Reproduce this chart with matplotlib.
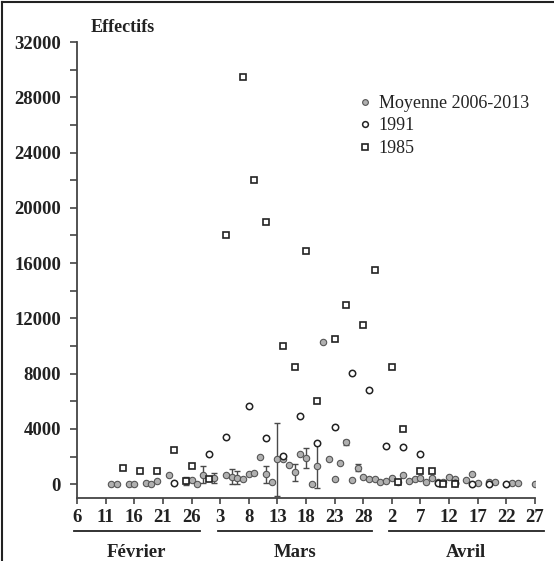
import matplotlib
matplotlib.use("Agg")
import matplotlib.pyplot as plt
import matplotlib.transforms as mtransforms
from matplotlib.lines import Line2D
import numpy as np

plt.rcParams['font.family'] = ['Liberation Serif', 'DejaVu Serif']

# days counted from 6 February (day 0) to 27 April (day 80)
moy_days = [6, 7, 9, 10, 12, 13, 14, 16, 19, 20, 21, 22, 24, 26, 27, 28, 29, 30, 31, 32,
            33, 34, 35, 36, 37, 38, 39, 40, 41, 42, 43, 44, 45, 46, 47, 48, 49, 50, 51, 52,
            53, 54, 55, 56, 57, 58, 59, 60, 61, 62, 63, 64, 65, 66, 68, 69, 70, 72, 73, 76,
            77, 80]
moy_vals = [0, 0, 0, 0, 100, 0, 200, 650, 220, 290, 0, 700, 430, 700, 550, 480, 340, 770, 800, 2000,
            720, 150, 1790, 1790, 1420, 850, 2150, 1900, 0, 1350, 10300, 1790, 360, 1520, 3020, 290, 1200, 530, 410, 360,
            170, 240, 430, 170, 650, 220, 360, 430, 140, 480, 140, 170, 500, 360, 290, 750, 100, 170, 170, 120,
            50, 0]
moy_err_days = [19, 22, 24, 27, 28, 33, 35, 38, 40, 42, 47, 49]
moy_err_vals = [220, 700, 430, 550, 480, 720, 1790, 850, 1900, 1350, 3020, 1200]
moy_err = [300, 650, 350, 520, 500, 630, 2650, 600, 700, 1650, 200, 250]

y1991_days = [17, 23, 26, 30, 33, 36, 39, 42, 45, 48, 51, 54, 57, 60, 63, 66, 69, 72, 75]
y1991_vals = [50, 2150, 3450, 5650, 3370, 2030, 4900, 3000, 4150, 8060, 6790, 2730, 2660, 2220,
              100, 100, 0, 0, 0]

y1985_days = [8, 11, 14, 17, 19, 20, 23, 26, 29, 31, 33, 36, 38, 40, 42, 45, 47, 50, 52, 55,
              56, 57, 60, 62, 64, 66]
y1985_vals = [1180, 950, 950, 2500, 220, 1350, 400, 18000, 29500, 22000, 19000, 10000, 8500,
              16900, 6000, 10500, 13000, 11500, 15500, 8500, 170, 4000, 970, 970, 0, 0]

tick_days = list(range(0, 81, 5))
tick_labels = ['6', '11', '16', '21', '26', '3', '8', '13', '18', '23', '28',
               '2', '7', '12', '17', '22', '27']
months = ['Février', 'Mars', 'Avril']
month_spans = [(-0.6, 21.5), (24.7, 51.6), (54.5, 81.5)]

fig = plt.figure(figsize=(5.54, 5.61), dpi=100)
ax = fig.add_axes([0.139, 0.1123, 0.8267, 0.8128])

ax.errorbar(moy_err_days, moy_err_vals, yerr=moy_err, fmt='none', ecolor='#4a4a4a',
            elinewidth=1.0, capsize=2.5, capthick=1.0, zorder=2)
ax.plot(moy_days, moy_vals, 'o', ms=4.6, mfc='#b0b0b0', mec='#555555', mew=0.8,
        ls='none', zorder=3, label='Moyenne 2006-2013')
ax.plot(y1991_days, y1991_vals, 'o', ms=4.6, mfc='white', mec='#222222', mew=1.1,
        ls='none', zorder=4, label='1991')
ax.plot(y1985_days, y1985_vals, 's', ms=4.2, mfc='white', mec='#222222', mew=1.2,
        ls='none', zorder=4, label='1985')

ax.set_xlim(0, 80)
ax.set_ylim(-1000, 32000)
ax.set_xticks(tick_days)
ax.set_xticklabels(tick_labels)
ax.set_yticks(np.arange(0, 32001, 4000))
ax.set_yticks(np.arange(2000, 32000, 4000), minor=True)

for side in ['top', 'right']:
    ax.spines[side].set_visible(False)
for side in ['left', 'bottom']:
    ax.spines[side].set_color('#444444')
    ax.spines[side].set_linewidth(1.3)

ax.tick_params(axis='both', which='both', direction='out', color='#444444', width=1.2,
               labelsize=13.5, labelcolor='#222222')
ax.tick_params(axis='x', length=4, pad=4)
ax.tick_params(axis='y', which='both', length=5, pad=6.5)
for lab in ax.get_xticklabels() + ax.get_yticklabels():
    lab.set_fontweight('bold')

# month underlines and names below the date ticks
trans = mtransforms.blended_transform_factory(ax.transData, ax.transAxes)
for name, (x0, x1) in zip(months, month_spans):
    ax.plot([x0, x1], [-0.0724, -0.0724], color='#222222', lw=1.3,
            transform=trans, clip_on=False)
    ax.text((x0 + x1) / 2, -0.119, name, transform=trans, ha='center', va='center',
            fontsize=13.5, fontweight='bold', color='#222222')

fig.text(91 / 554, 1 - 27 / 561, 'Effectifs', ha='left', va='center',
         fontsize=13, fontweight='bold', color='#222222')

ax.legend(loc='upper left', bbox_to_anchor=(358 / 554, 1 - 95 / 561),
          bbox_transform=fig.transFigure, frameon=False, fontsize=13,
          handlelength=0.8, handletextpad=0.35, labelspacing=0.3, borderpad=0,
          borderaxespad=0, markerscale=0.9, labelcolor='#222222')

# open frame around the figure (left and top edges)
fig.add_artist(Line2D([2 / 554, 2 / 554], [0, 1 - 2 / 561], color='#222222', lw=1.5,
                      transform=fig.transFigure))
fig.add_artist(Line2D([2 / 554, 1], [1 - 2 / 561, 1 - 2 / 561], color='#222222', lw=1.5,
                      transform=fig.transFigure))

fig.savefig('out.png', dpi=100)
